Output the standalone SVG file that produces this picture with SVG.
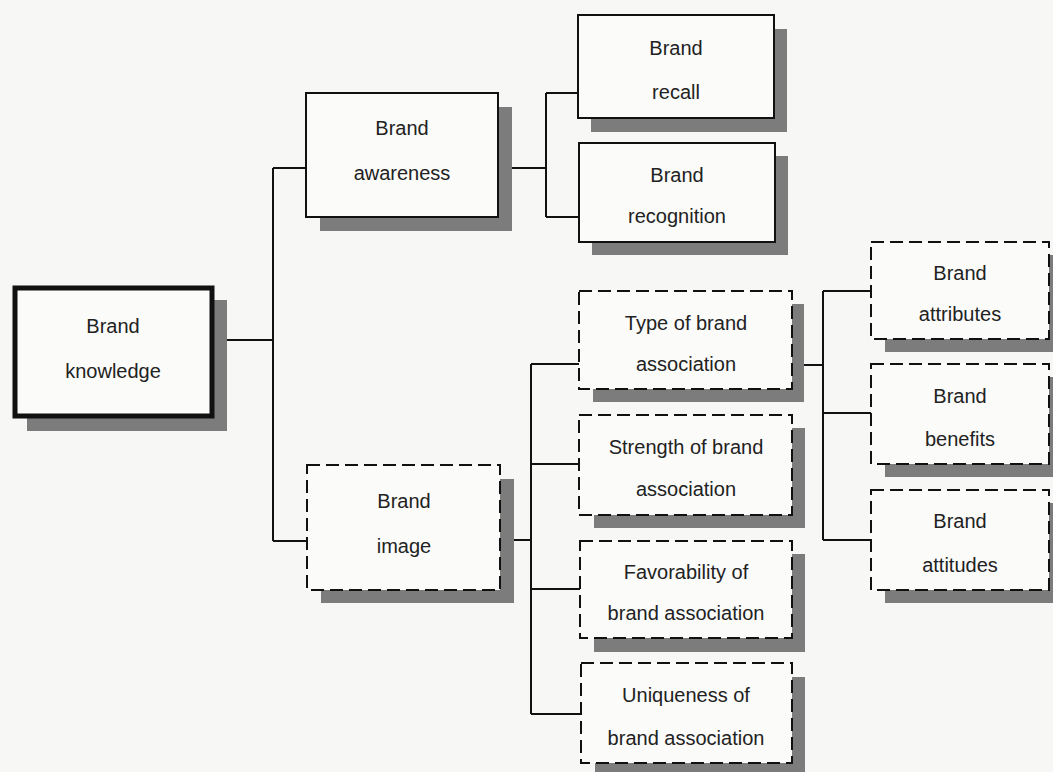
<svg xmlns="http://www.w3.org/2000/svg" width="1053" height="772" viewBox="0 0 1053 772">
  <defs>
    <style>
      .shadow { fill: #7c7c7c; }
      .box { fill: #fbfbfa; stroke: #111; stroke-width: 2; }
      .dashed { stroke-dasharray: 13 6; }
      .heavy { stroke-width: 5; }
      .label { font-family: "Liberation Sans", Arial, sans-serif; font-size: 20px; fill: #222; text-anchor: middle; }
      .wire { fill: none; stroke: #111; stroke-width: 2; }
    </style>
  </defs>
  <rect width="1053" height="772" fill="#f7f7f5"/>

  <!-- tree connectors -->
  <g id="connectors" class="wire">
    <path d="M213 340 H273 M273 168 V541 M273 168 H306 M273 541 H307"/>
    <path d="M498 168 H546 M546 93 V217 M546 93 H578 M546 217 H579"/>
    <path d="M500 540 H531 M531 364 V714 M531 364 H579 M531 464 H579 M531 589 H580 M531 714 H581"/>
    <path d="M792 365 H823 M823 291 V540 M823 291 H871 M823 413 H871 M823 540 H871"/>
  </g>

  <g id="brand-knowledge">
    <rect class="shadow" x="27" y="300" width="200" height="131"/>
    <rect class="box heavy" x="15" y="288" width="197" height="128"/>
    <text class="label" x="113" y="333">Brand</text>
    <text class="label" x="113" y="378">knowledge</text>
  </g>

  <g id="brand-awareness">
    <rect class="shadow" x="320" y="107" width="192" height="124"/>
    <rect class="box" x="306" y="93" width="192" height="124"/>
    <text class="label" x="402" y="135">Brand</text>
    <text class="label" x="402" y="180">awareness</text>
  </g>

  <g id="brand-recall">
    <rect class="shadow" x="591" y="29" width="196" height="103"/>
    <rect class="box" x="578" y="15" width="196" height="103"/>
    <text class="label" x="676" y="55">Brand</text>
    <text class="label" x="676" y="99">recall</text>
  </g>

  <g id="brand-recognition">
    <rect class="shadow" x="592" y="156" width="196" height="99"/>
    <rect class="box" x="579" y="143" width="196" height="99"/>
    <text class="label" x="677" y="182">Brand</text>
    <text class="label" x="677" y="223">recognition</text>
  </g>

  <g id="brand-image">
    <rect class="shadow" x="321" y="479" width="193" height="124"/>
    <rect class="box dashed" x="307" y="465" width="193" height="125"/>
    <text class="label" x="404" y="508">Brand</text>
    <text class="label" x="404" y="553">image</text>
  </g>

  <g id="type-of-association">
    <rect class="shadow" x="593" y="304" width="211" height="98"/>
    <rect class="box dashed" x="579" y="291" width="213" height="98"/>
    <text class="label" x="686" y="330">Type of brand</text>
    <text class="label" x="686" y="371">association</text>
  </g>

  <g id="strength-of-association">
    <rect class="shadow" x="594" y="428" width="211" height="100"/>
    <rect class="box dashed" x="579" y="415" width="213" height="100"/>
    <text class="label" x="686" y="454">Strength of brand</text>
    <text class="label" x="686" y="496">association</text>
  </g>

  <g id="favorability-of-association">
    <rect class="shadow" x="594" y="554" width="211" height="98"/>
    <rect class="box dashed" x="580" y="541" width="212" height="97"/>
    <text class="label" x="686" y="579">Favorability of</text>
    <text class="label" x="686" y="620">brand association</text>
  </g>

  <g id="uniqueness-of-association">
    <rect class="shadow" x="595" y="677" width="210" height="99"/>
    <rect class="box dashed" x="581" y="663" width="211" height="100"/>
    <text class="label" x="686" y="702">Uniqueness of</text>
    <text class="label" x="686" y="745">brand association</text>
  </g>

  <g id="brand-attributes">
    <rect class="shadow" x="885" y="255" width="178" height="97"/>
    <rect class="box dashed" x="871" y="242" width="178" height="97"/>
    <text class="label" x="960" y="280">Brand</text>
    <text class="label" x="960" y="321">attributes</text>
  </g>

  <g id="brand-benefits">
    <rect class="shadow" x="885" y="377" width="178" height="100"/>
    <rect class="box dashed" x="871" y="364" width="178" height="100"/>
    <text class="label" x="960" y="403">Brand</text>
    <text class="label" x="960" y="446">benefits</text>
  </g>

  <g id="brand-attitudes">
    <rect class="shadow" x="885" y="503" width="178" height="100"/>
    <rect class="box dashed" x="871" y="490" width="178" height="100"/>
    <text class="label" x="960" y="528">Brand</text>
    <text class="label" x="960" y="572">attitudes</text>
  </g>
</svg>
